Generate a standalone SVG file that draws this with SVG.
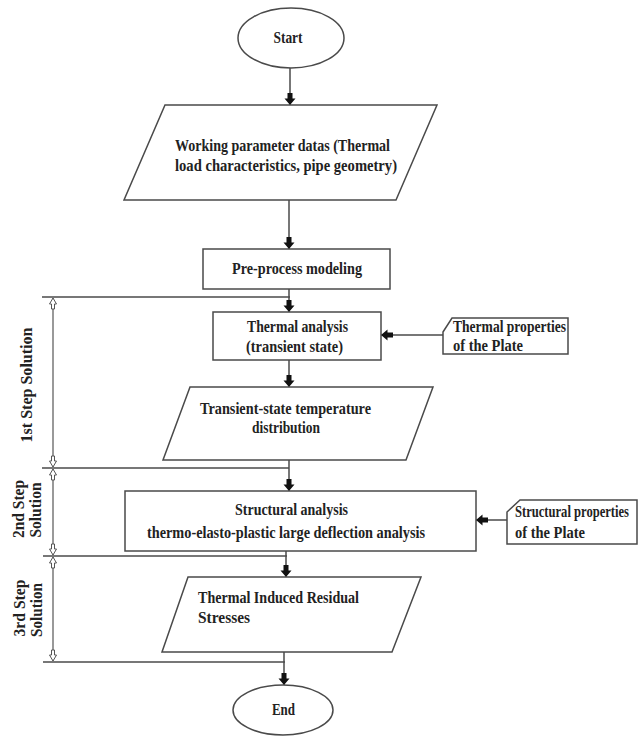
<svg xmlns="http://www.w3.org/2000/svg" width="640" height="736" viewBox="0 0 640 736">
<style>
  .shape { fill: #ffffff; stroke: #4a4a4a; stroke-width: 1.5; }
  .line { fill: none; stroke: #4a4a4a; stroke-width: 1.5; }
  .dim { fill: none; stroke: #555555; stroke-width: 1.2; }
  text { font-family: "Liberation Serif", "Times New Roman", serif; font-weight: bold; font-size: 16px; fill: #222222; }
  .c { text-anchor: middle; }
</style>
<defs>
  <marker id="blk" viewBox="0 -6 12 12" refX="12" refY="0" markerWidth="12" markerHeight="12" markerUnits="userSpaceOnUse" orient="auto">
    <path d="M0,-2.5 H5.5 V-5.5 L12,0 L5.5,5.5 V2.5 H0 Z" fill="#111111"/>
  </marker>
  <marker id="hol" viewBox="-1 -5 13 10" refX="11" refY="0" markerWidth="13" markerHeight="10" markerUnits="userSpaceOnUse" orient="auto-start-reverse">
    <path d="M0,-1.5 H5 V-3.5 L11,0 L5,3.5 V1.5 H0 Z" fill="#ffffff" stroke="#555555" stroke-width="1"/>
  </marker>
</defs>

<g id="connectors">
  <line class="line" x1="290" y1="68" x2="290" y2="105" marker-end="url(#blk)"/>
  <line class="line" x1="289" y1="200" x2="289" y2="249" marker-end="url(#blk)"/>
  <line class="line" x1="289" y1="289" x2="289" y2="312" marker-end="url(#blk)"/>
  <line class="line" x1="289" y1="360" x2="289" y2="387" marker-end="url(#blk)"/>
  <line class="line" x1="289" y1="460" x2="289" y2="491" marker-end="url(#blk)"/>
  <line class="line" x1="286" y1="551" x2="286" y2="577" marker-end="url(#blk)"/>
  <line class="line" x1="284" y1="652" x2="284" y2="685" marker-end="url(#blk)"/>
  <line class="line" x1="443" y1="335" x2="381" y2="335" marker-end="url(#blk)"/>
  <line class="line" x1="507" y1="520" x2="476" y2="520" marker-end="url(#blk)"/>
</g>

<g id="step-brackets">
  <line class="line" x1="42" y1="297" x2="290" y2="297"/>
  <line class="line" x1="42" y1="468" x2="289" y2="468"/>
  <line class="line" x1="43" y1="556" x2="287" y2="556"/>
  <line class="line" x1="43" y1="662" x2="285" y2="662"/>
  <line class="dim" x1="53" y1="298" x2="53" y2="467" marker-start="url(#hol)" marker-end="url(#hol)"/>
  <line class="dim" x1="53" y1="469" x2="53" y2="555" marker-start="url(#hol)" marker-end="url(#hol)"/>
  <line class="dim" x1="53" y1="557" x2="53" y2="661" marker-start="url(#hol)" marker-end="url(#hol)"/>
  <text class="c" transform="translate(32,385) rotate(-90)" textLength="115" lengthAdjust="spacingAndGlyphs">1st Step Solution</text>
  <text class="c" transform="translate(24,509) rotate(-90)" textLength="58" lengthAdjust="spacingAndGlyphs">2nd Step</text>
  <text class="c" transform="translate(41,510) rotate(-90)" textLength="55" lengthAdjust="spacingAndGlyphs">Solution</text>
  <text class="c" transform="translate(25,608) rotate(-90)" textLength="57" lengthAdjust="spacingAndGlyphs">3rd Step</text>
  <text class="c" transform="translate(42,610) rotate(-90)" textLength="54" lengthAdjust="spacingAndGlyphs">Solution</text>
</g>

<g id="start">
  <ellipse class="shape" cx="291" cy="38" rx="53" ry="30"/>
  <text class="c" x="288" y="43" textLength="29" lengthAdjust="spacingAndGlyphs">Start</text>
</g>

<g id="working-parameters">
  <polygon class="shape" points="165,105 437,105 396,200 124,200"/>
  <text x="175" y="151" textLength="215" lengthAdjust="spacingAndGlyphs">Working parameter datas (Thermal</text>
  <text x="175" y="171" textLength="222" lengthAdjust="spacingAndGlyphs">load characteristics, pipe geometry)</text>
</g>

<g id="pre-process">
  <rect class="shape" x="203" y="249" width="187" height="40"/>
  <text x="232" y="274" textLength="130" lengthAdjust="spacingAndGlyphs">Pre-process modeling</text>
</g>

<g id="thermal-analysis">
  <rect class="shape" x="213" y="312" width="168" height="48"/>
  <text x="247" y="332" textLength="101" lengthAdjust="spacingAndGlyphs">Thermal analysis</text>
  <text x="246" y="352" textLength="97" lengthAdjust="spacingAndGlyphs">(transient state)</text>
</g>

<g id="thermal-properties">
  <path class="shape" d="M443,332 L452,318 H568 V354 H443 Z"/>
  <text x="453" y="332" textLength="113" lengthAdjust="spacingAndGlyphs">Thermal properties</text>
  <text x="453" y="351" textLength="70" lengthAdjust="spacingAndGlyphs">of the Plate</text>
</g>

<g id="temperature-distribution">
  <polygon class="shape" points="190,387 433,387 406,460 163,460"/>
  <text x="200" y="414" textLength="171" lengthAdjust="spacingAndGlyphs">Transient-state temperature</text>
  <text x="252" y="433" textLength="68" lengthAdjust="spacingAndGlyphs">distribution</text>
</g>

<g id="structural-analysis">
  <rect class="shape" x="125" y="491" width="351" height="60"/>
  <text x="235" y="515" textLength="113" lengthAdjust="spacingAndGlyphs">Structural analysis</text>
  <text x="147" y="538" textLength="278" lengthAdjust="spacingAndGlyphs">thermo-elasto-plastic large deflection analysis</text>
</g>

<g id="structural-properties">
  <path class="shape" d="M507,512 L520,500 H637 V544 H507 Z"/>
  <text x="515" y="517" textLength="114" lengthAdjust="spacingAndGlyphs">Structural properties</text>
  <text x="515" y="538" textLength="70" lengthAdjust="spacingAndGlyphs">of the Plate</text>
</g>

<g id="residual-stresses">
  <polygon class="shape" points="188,577 421,577 392,652 162,652"/>
  <text x="198" y="603" textLength="161" lengthAdjust="spacingAndGlyphs">Thermal Induced Residual</text>
  <text x="198" y="623" textLength="52" lengthAdjust="spacingAndGlyphs">Stresses</text>
</g>

<g id="end">
  <ellipse class="shape" cx="283" cy="710" rx="50" ry="25"/>
  <text class="c" x="283.5" y="715" textLength="23" lengthAdjust="spacingAndGlyphs">End</text>
</g>
</svg>
